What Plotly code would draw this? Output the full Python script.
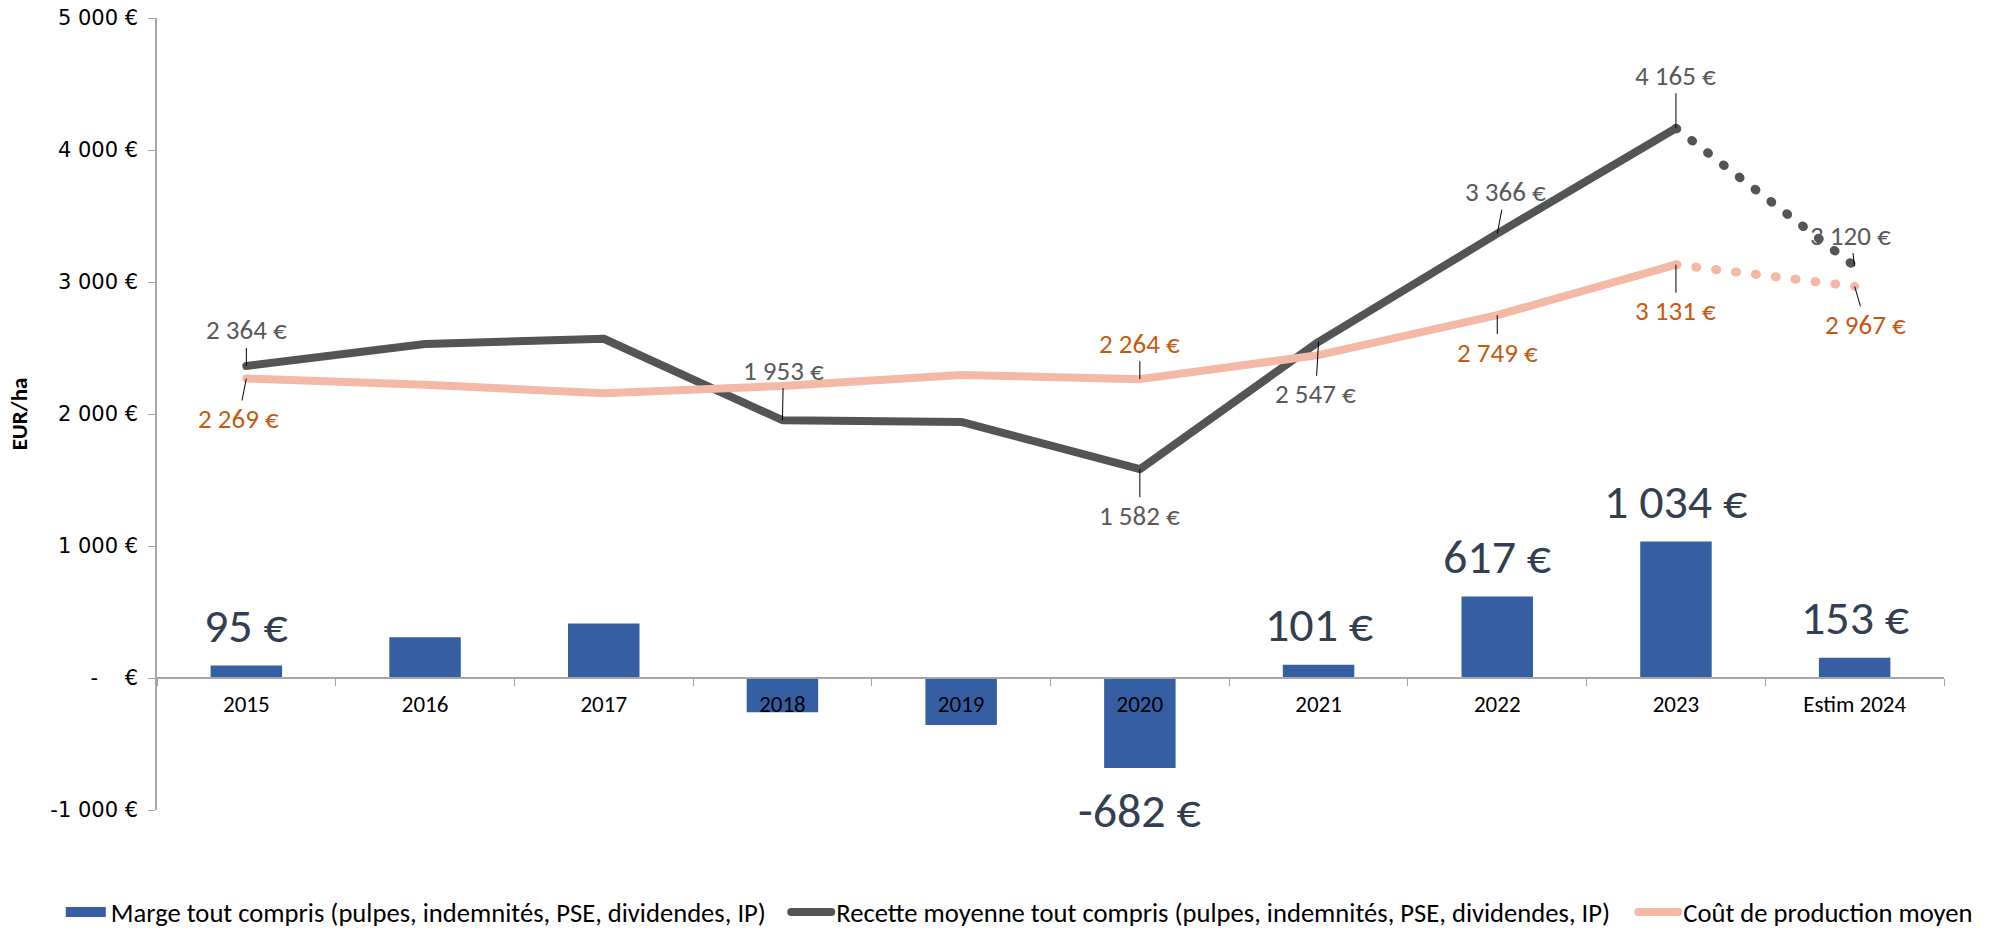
import plotly.graph_objects as go

# ---------------- data ----------------
categories = ["2015", "2016", "2017", "2018", "2019", "2020", "2021", "2022", "2023", "Estim 2024"]
marge = [95, 308, 413, -260, -356, -682, 101, 617, 1034, 153]
recette = [2364, 2530, 2570, 1953, 1940, 1582, 2547, 3366, 4165, 3120]
cout = [2269, 2222, 2157, 2213, 2296, 2264, 2446, 2749, 3131, 2967]

ytick_vals = [-1000, 0, 1000, 2000, 3000, 4000, 5000]
ytick_text = ["-1 000 €", "-\u00a0\u00a0\u00a0\u00a0€", "1 000 €", "2 000 €", "3 000 €", "4 000 €", "5 000 €"]

name_marge = "Marge tout compris (pulpes, indemnités, PSE, dividendes, IP)"
name_recette = "Recette moyenne tout compris (pulpes, indemnités, PSE, dividendes, IP)"
name_cout = "Coût de production moyen"

# which points carry labels, and label offsets (px)
recette_lab_idx = [0, 3, 5, 6, 7, 8, 9]
recette_lab_off = [(0, -36), (1, -50), (0, 46), (-3, 52), (8, -42), (0, -53), (-4, -31)]
cout_lab_idx = [0, 5, 7, 8, 9]
cout_lab_off = [(-8, 40), (0, -36), (0, 37), (0, 46), (11, 38)]
marge_lab_idx = [0, 5, 6, 7, 8, 9]

# ---------------- styles ----------------
C_BAR = "#365EA3"
C_REC = "#545454"
C_COUT = "#F4B9A5"
C_REC_LAB = "#595959"
C_COUT_LAB = "#C55A11"
C_BAR_LAB = "#333F50"
NARROW = "Carlito, Calibri, Lato, sans-serif"
YFONT = "DejaVu Sans, Verdana, sans-serif"
DOT = "1px,19px"


def fmt(v):
    s = f"{abs(int(v)):,}".replace(",", " ")
    return ("-" if v < 0 else "") + s + " €"


fig = go.Figure()

fig.add_trace(go.Bar(x=categories, y=marge, name=name_marge, marker_color=C_BAR,
                     marker_line_width=0, showlegend=False))
# legend swatch for the bars (no data drawn)
fig.add_trace(go.Scatter(x=[None], y=[None], mode="lines", name=name_marge, legend="legend",
                         line=dict(color=C_BAR, width=14)))

# recette : solid up to 2023, dotted for estimate
fig.add_trace(go.Scatter(x=categories[:9], y=recette[:9], mode="lines", name=name_recette,
                         legend="legend2", line=dict(color=C_REC, width=8)))
fig.add_trace(go.Scatter(x=categories[8:], y=recette[8:], mode="lines", showlegend=False,
                         line=dict(color=C_REC, width=9, dash=DOT)))
fig.add_trace(go.Scatter(x=categories[:9], y=cout[:9], mode="lines", name=name_cout,
                         legend="legend3", line=dict(color=C_COUT, width=8)))
fig.add_trace(go.Scatter(x=categories[8:], y=cout[8:], mode="lines", showlegend=False,
                         line=dict(color=C_COUT, width=9, dash=DOT)))

annotations = []
for i, (dx, dy) in zip(recette_lab_idx, recette_lab_off):
    annotations.append(dict(x=i, y=recette[i], text=fmt(recette[i]), ax=dx, ay=dy,
                            showarrow=True, arrowhead=0, arrowwidth=1, arrowcolor="#000000",
                            font=dict(family=NARROW, size=27, color=C_REC_LAB)))
for i, (dx, dy) in zip(cout_lab_idx, cout_lab_off):
    annotations.append(dict(x=i, y=cout[i], text=fmt(cout[i]), ax=dx, ay=dy,
                            showarrow=True, arrowhead=0, arrowwidth=1, arrowcolor="#000000",
                            font=dict(family=NARROW, size=27, color=C_COUT_LAB)))
for i in marge_lab_idx:
    annotations.append(dict(x=i, y=marge[i], text=fmt(marge[i]), showarrow=False,
                            yshift=40 if marge[i] >= 0 else -42,
                            font=dict(family=NARROW, size=48, color=C_BAR_LAB)))

leg_common = dict(orientation="h", xref="container", yref="container", xanchor="left",
                  y=0.019, yanchor="middle", font=dict(family=NARROW, size=26.6, color="#000000"),
                  itemwidth=40, bgcolor="rgba(0,0,0,0)")

fig.update_layout(
    width=1993, height=930,
    margin=dict(l=157, r=49, t=18, b=120, autoexpand=False),
    paper_bgcolor="white", plot_bgcolor="white",
    bargap=0.6,
    showlegend=True,
    legend=dict(x=0.0305, **leg_common),
    legend2=dict(x=0.3945, **leg_common),
    legend3=dict(x=0.8195, **leg_common),
    annotations=annotations,
    xaxis=dict(type="category", range=[-0.5, 9.5], autorange=False, anchor="free", position=1 / 6,
               automargin=False,
               showline=True, linecolor="#A6A6A6",
               linewidth=1.5, ticks="outside", tickson="boundaries", ticklen=7, tickcolor="#A6A6A6",
               showgrid=False, zeroline=False, tickangle=0, ticklabelstandoff=6,
               tickfont=dict(family=NARROW, size=23, color="#000000")),
    yaxis=dict(range=[-1000, 5000], autorange=False, tickvals=ytick_vals, ticktext=ytick_text,
               automargin=False,
               showgrid=False,
               zeroline=False, showline=True, linecolor="#A6A6A6", linewidth=1.5,
               ticks="outside", ticklen=7, tickcolor="#A6A6A6", ticklabelstandoff=6,
               tickfont=dict(family=YFONT, size=21, color="#000000"),
               title=dict(text="<b>EUR/ha</b>", font=dict(family=NARROW, size=23, color="#000000"),
                          standoff=16)),
)

post = """
document.body.style.margin = '0';
document.body.style.overflow = 'hidden';
var gd = document.getElementById('{plot_id}');
gd.querySelectorAll('path.js-line, .legendlines path').forEach(function(p){
  var s = (p.style.stroke || '').replace(/\\s/g, '');
  if (s.indexOf('rgb(54,94,163)') === 0) { return; }
  p.style.strokeLinecap = 'round';
  p.style.strokeLinejoin = 'round';
});
"""

fig.write_html("out.html", post_script=post, config={"displayModeBar": False})
